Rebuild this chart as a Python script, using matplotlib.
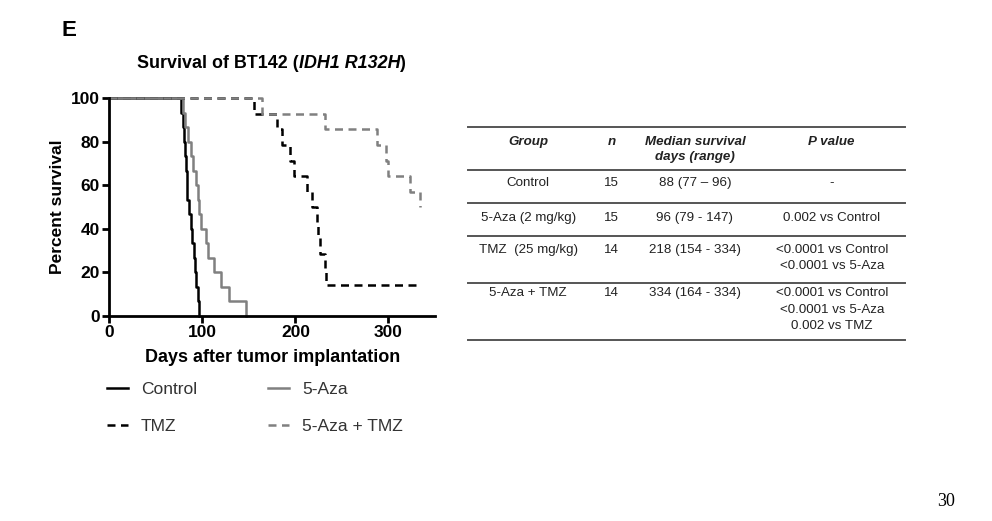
import numpy as np
import matplotlib.pyplot as plt
from matplotlib.lines import Line2D

plt.rcParams['font.family'] = ['Liberation Sans', 'DejaVu Sans']

# death / censor days
groups = ['Control', '5-Aza', 'TMZ', '5-Aza + TMZ']
n_mice = [15, 15, 14, 14]
control_deaths = [77, 79, 80, 81, 82, 83, 84, 86, 88, 89, 91, 92, 93, 95, 96]
aza_deaths = [79, 81, 85, 88, 90, 93, 95, 96, 98, 104, 106, 112, 120, 129, 147]
tmz_deaths = [155, 180, 186, 194, 198, 212, 218, 223, 224, 226, 232, 233]
tmz_censored = [334, 334]
combo_deaths = [164, 232, 288, 297, 299, 323, 334]
combo_censored = [334] * 7

x_ticks = [0, 100, 200, 300]
y_ticks = [0, 20, 40, 60, 80, 100]

table_header = ['Group', 'n', 'Median survival\ndays (range)', 'P value']
table_group = ['Control', '5-Aza (2 mg/kg)', 'TMZ  (25 mg/kg)', '5-Aza + TMZ']
table_n = ['15', '15', '14', '14']
table_median = ['88 (77 \u2013 96)', '96 (79 - 147)', '218 (154 - 334)', '334 (164 - 334)']
table_p = ['-', '0.002 vs Control',
           '<0.0001 vs Control\n<0.0001 vs 5-Aza',
           '<0.0001 vs Control\n<0.0001 vs 5-Aza\n0.002 vs TMZ']


def km_curve(deaths, censored, n):
    # kaplan-meier steps, percent survival
    times = [0]
    surv = [100.0]
    at_risk = n
    s = 1.0
    events = sorted([(t, 1) for t in deaths] + [(t, 0) for t in censored],
                    key=lambda e: (e[0], -e[1]))
    for t, dead in events:
        if dead:
            s *= (at_risk - 1) / at_risk
            times.append(t)
            surv.append(s * 100)
        at_risk -= 1
    if censored:
        last = max(censored)
        if last > times[-1]:
            times.append(last)
            surv.append(surv[-1])
    return times, surv


fig = plt.figure(figsize=(9.92, 5.21), dpi=100)
ax = fig.add_axes([0.1102, 0.394, 0.3283, 0.4171])

grey = '#808080'
dash = (0, (3.2, 2.2))
styles = [
    dict(color='black', ls='-'),
    dict(color=grey, ls='-'),
    dict(color='black', ls=dash),
    dict(color=grey, ls=dash),
]
data = [
    (control_deaths, []),
    (aza_deaths, []),
    (tmz_deaths, tmz_censored),
    (combo_deaths, combo_censored),
]
handles = []
for name, n, (d, c), st in zip(groups, n_mice, data, styles):
    t, s = km_curve(d, c, n)
    ax.step(t, s, where='post', lw=1.8, clip_on=False, **st)
    handles.append(Line2D([], [], lw=1.8, label=name, **st))

ax.set_xlim(0, 350)
ax.set_ylim(0, 100)
ax.set_xticks(x_ticks)
ax.set_yticks(y_ticks)
for sp in ['top', 'right']:
    ax.spines[sp].set_visible(False)
for sp in ['left', 'bottom']:
    ax.spines[sp].set_linewidth(2)
ax.tick_params(width=2, length=5, labelsize=12.5, pad=2)
for lab in ax.get_xticklabels() + ax.get_yticklabels():
    lab.set_fontweight('bold')
ax.set_xlabel('Days after tumor implantation', fontsize=13, fontweight='bold', labelpad=6)
ax.set_ylabel('Percent survival', fontsize=12.5, fontweight='bold', labelpad=4)

leg = fig.legend([handles[0], handles[2], handles[1], handles[3]],
                 [groups[0], groups[2], groups[1], groups[3]],
                 ncol=2, loc='upper left', bbox_to_anchor=(0.092, 0.297),
                 frameon=False, fontsize=12.5, handlelength=1.2, handletextpad=0.75,
                 columnspacing=4.1, labelspacing=1.25)
for txt in leg.get_texts():
    txt.set_color('#333333')

fig.text(0.062, 1 - 30 / 521, 'E', fontsize=16, fontweight='bold', va='center')

# title with italic gene name, pieced together
fig.canvas.draw()
r = fig.canvas.get_renderer()
x0 = 0.138
parts = [('Survival of BT142 (', 'normal'), ('IDH1 R132H', 'italic'), (')', 'normal')]
for s, style in parts:
    t = fig.text(x0, 1 - 64 / 521, s, fontsize=12.9, fontweight='bold', fontstyle=style,
                 va='center')
    bb = t.get_window_extent(renderer=r)
    x0 += bb.width / fig.bbox.width

# table on the right
line_x = [0.472, 0.912]
line_y = [126.7, 170, 203.3, 236, 282.7, 340]
for y in line_y:
    fig.add_artist(Line2D(line_x, [1 - y / 521] * 2, color='#555555', lw=1.4))

col_x = [528.3, 611.7, 695, 831.7]
fs = 9.6
line_h = 16.3
for cx, h in zip(col_x, table_header):
    for k, part in enumerate(h.split('\n')):
        fig.text(cx / 992, 1 - (142 + k * 15) / 521, part, fontsize=fs, fontstyle='italic',
                 fontweight='bold', ha='center', va='center', color='#222222')
row_mid = [183.3, 218.3, 250, 293.3]
for i in range(4):
    for cx, val in zip(col_x, [table_group[i], table_n[i], table_median[i], table_p[i]]):
        for k, part in enumerate(val.split('\n')):
            fig.text(cx / 992, 1 - (row_mid[i] + k * line_h) / 521, part, fontsize=fs,
                     ha='center', va='center', color='#222222')

fig.text(946 / 992, 1 - 502 / 521, '30', fontsize=13, family='Liberation Serif',
         ha='center', va='center')

fig.savefig('out.png', dpi=100)
